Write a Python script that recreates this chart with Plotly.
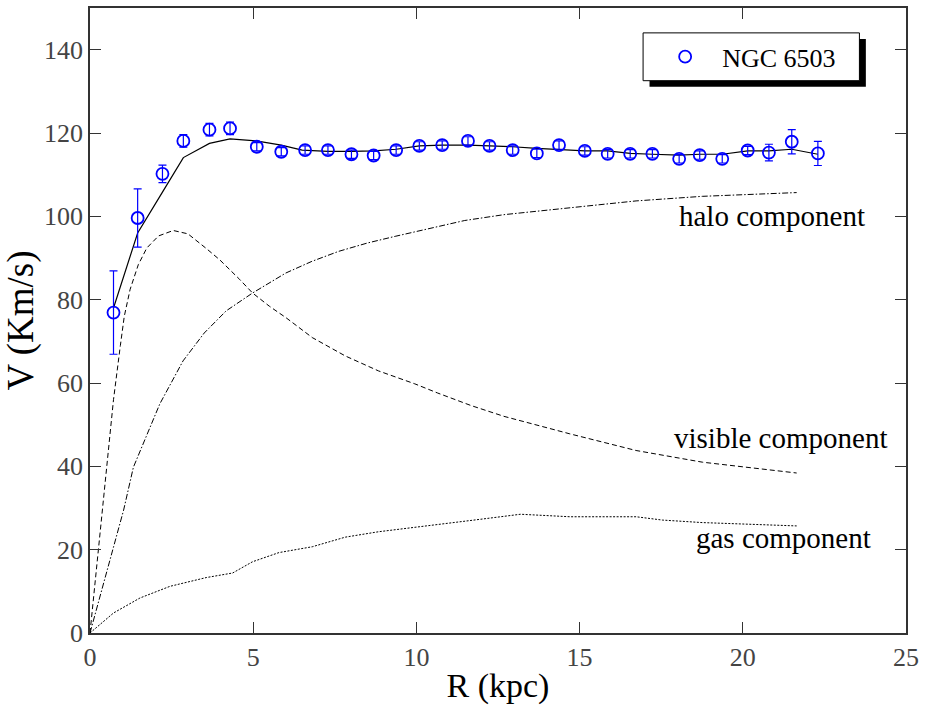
import plotly.graph_objects as go

# Observed rotation curve of NGC 6503
r_obs = [0.72, 1.46, 2.22, 2.86, 3.66, 4.29, 5.11, 5.86, 6.59, 7.29, 8.01, 8.69,
         9.38, 10.09, 10.79, 11.58, 12.24, 12.95, 13.69, 14.37, 15.16, 15.86,
         16.55, 17.23, 18.05, 18.68, 19.37, 20.15, 20.80, 21.50, 22.30]
v_obs = [76.9, 99.6, 110.2, 118.1, 120.8, 121.1, 116.7, 115.5, 115.9, 115.9, 114.9, 114.6,
         115.9, 116.9, 117.1, 118.1, 116.9, 115.9, 115.1, 117.1, 115.7, 115.0,
         115.0, 115.0, 113.8, 114.7, 113.8, 115.8, 115.3, 117.9, 115.1]
v_err = [10.0, 7.0, 2.1, 1.5, 1.5, 1.5, 1.0, 1.0, 1.0, 1.0, 1.0, 1.0,
         1.0, 1.0, 1.0, 1.0, 1.0, 1.0, 1.0, 1.0, 1.0, 1.0,
         1.0, 1.0, 1.0, 1.0, 1.0, 1.0, 2.0, 2.9, 2.9]

# Total model fit
r_tot = [0.72, 1.46, 2.22, 2.86, 3.66, 4.29, 5.09, 5.86, 6.50, 7.29, 8.01, 8.69,
         9.38, 10.09, 10.79, 11.58, 12.24, 12.95, 13.69, 14.37, 15.16, 15.86,
         16.55, 17.23, 18.05, 18.68, 19.37, 20.15, 20.80, 21.50, 22.30]
v_tot = [78.0, 96.0, 105.8, 114.1, 117.5, 118.6, 118.1, 117.1, 115.9, 115.6, 115.6, 115.7,
         116.1, 116.9, 117.1, 117.1, 116.9, 116.7, 116.3, 116.1, 115.7, 115.7,
         115.1, 114.9, 114.7, 114.9, 114.9, 115.7, 115.7, 116.1, 114.9]

# Visible (stellar disk) component
r_vis = [0, 0.36, 0.72, 0.93, 1.05, 1.23, 1.48, 1.74, 2.10, 2.55, 3.00, 3.56, 3.97,
         4.58, 4.98, 5.50, 6.00, 6.81, 7.82, 8.84, 9.95, 10.65, 11.67, 12.68,
         14.70, 16.73, 18.76, 21.65]
v_vis = [0, 28.0, 56.0, 69.0, 76.0, 82.5, 88.4, 92.4, 95.3, 96.6, 95.8, 92.3, 89.6,
         84.9, 81.6, 78.4, 75.7, 70.9, 66.5, 62.9, 59.8, 57.6, 54.6, 52.0,
         47.8, 43.8, 41.0, 38.4]

# Dark halo component
r_halo = [0, 0.50, 1.03, 1.33, 2.14, 2.85, 3.50, 4.17, 4.98, 6.00, 6.80, 7.62,
          8.50, 9.35, 10.65, 11.48, 12.68, 14.70, 16.73, 18.76, 21.65]
v_halo = [0, 14.5, 29.5, 39.8, 55.0, 65.3, 72.0, 77.3, 81.6, 86.4, 89.2, 91.6,
          93.6, 95.2, 97.6, 99.0, 100.4, 102.1, 103.7, 104.8, 105.7]

# Gas component
r_gas = [0, 0.72, 1.53, 2.45, 3.56, 4.37, 4.98, 5.79, 6.81, 7.82, 8.84, 9.95,
         10.87, 11.97, 13.19, 13.90, 14.70, 16.73, 17.54, 18.76, 21.65]
v_gas = [0, 4.8, 8.4, 11.2, 13.3, 14.4, 17.1, 19.3, 20.7, 23.0, 24.3, 25.3,
         26.3, 27.3, 28.5, 28.3, 27.9, 27.9, 27.1, 26.5, 25.7]

component_labels = ["halo component", "visible component", "gas component"]
label_x = [20.89, 21.17, 21.26]
label_y = [100.0, 46.7, 22.8]

x_ticks = [0, 5, 10, 15, 20, 25]
y_ticks = [0, 20, 40, 60, 80, 100, 120, 140]

FONT = "Liberation Serif, Times New Roman, serif"
BLUE = "#0000ff"

fig = go.Figure()

fig.add_trace(go.Scatter(x=r_vis, y=v_vis, mode="lines", showlegend=False,
                         line=dict(color="black", width=1, dash="5px,3px")))
fig.add_trace(go.Scatter(x=r_halo, y=v_halo, mode="lines", showlegend=False,
                         line=dict(color="black", width=1, dash="6px,2px,1.5px,2px")))
fig.add_trace(go.Scatter(x=r_gas, y=v_gas, mode="lines", showlegend=False,
                         line=dict(color="black", width=1, dash="2px,1.5px")))
fig.add_trace(go.Scatter(x=r_tot, y=v_tot, mode="lines", showlegend=False,
                         line=dict(color="black", width=1.2)))
fig.add_trace(go.Scatter(
    x=r_obs, y=v_obs, mode="markers", name="NGC 6503",
    marker=dict(symbol="circle-open", size=12, color=BLUE, line=dict(color=BLUE, width=1.8)),
    error_y=dict(type="data", array=v_err, visible=True, color=BLUE, thickness=1.2, width=4),
))

for txt, lx, ly in zip(component_labels, label_x, label_y):
    fig.add_annotation(x=lx, y=ly, text=txt, showarrow=False, xanchor="center", yanchor="middle",
                       font=dict(family=FONT, size=29, color="black"))

# Legend frame with drop shadow
fig.add_shape(type="rect", xref="paper", yref="paper", x0=0.6857, x1=0.9508, y0=0.8741, y1=0.9506,
              fillcolor="black", line=dict(width=0), layer="above")
fig.add_shape(type="rect", xref="paper", yref="paper", x0=0.6778, x1=0.9429, y0=0.8837, y1=0.9602,
              fillcolor="white", line=dict(color="black", width=1), layer="above")

axis_common = dict(showline=True, linecolor="#333333", linewidth=1.5, mirror="ticks",
                   ticks="inside", ticklen=11, tickwidth=1.2, tickcolor="#333333",
                   showgrid=False, zeroline=False,
                   tickfont=dict(family=FONT, size=26, color="#444444"))

fig.update_xaxes(range=[0, 25], tickvals=x_ticks, **axis_common,
                 title=dict(text="R (kpc)", font=dict(family=FONT, size=34, color="black"), standoff=2))
fig.update_yaxes(range=[0, 150], tickvals=y_ticks, **axis_common,
                 title=dict(text="V (Km/s)", font=dict(family=FONT, size=37, color="black"), standoff=4))

fig.update_layout(
    width=925, height=713,
    margin=dict(l=90, r=13, t=6, b=80),
    paper_bgcolor="white", plot_bgcolor="white",
    font=dict(family=FONT),
    legend=dict(x=0.6840, y=0.9220, xanchor="left", yanchor="middle",
                bgcolor="rgba(0,0,0,0)", borderwidth=0, itemwidth=64,
                font=dict(family=FONT, size=26, color="black")),
)

fig.write_html("out.html")
